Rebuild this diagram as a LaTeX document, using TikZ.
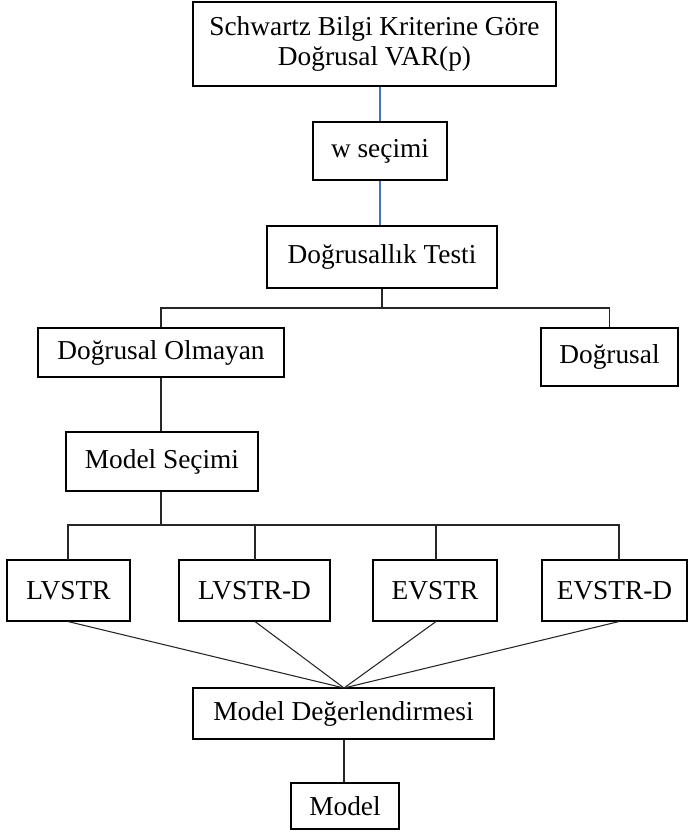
\documentclass[tikz,border=0pt]{standalone}
\usepackage{fontspec}
\setmainfont{Liberation Serif}
\definecolor{wordblue}{HTML}{4472C4}
\begin{document}
\begin{tikzpicture}[x=0.75pt,y=-0.75pt,
  box/.style={draw=black,line width=0.8pt,inner sep=0pt,align=center,
    font=\fontsize{20.5pt}{21.8pt}\selectfont},
  conn/.style={draw=black!85,line width=0.8pt},
  bconn/.style={draw=wordblue,line width=0.8pt}]
\useasboundingbox (0,0) rectangle (687,834);
\node[box,minimum width=363*0.75pt,minimum height=84*0.75pt] (top) at (374.5,44) {Schwartz Bilgi Kriterine Göre\\Doğrusal VAR(p)};
\node[box,minimum width=134*0.75pt,minimum height=58*0.75pt] (w) at (380,151) {w seçimi};
\node[box,minimum width=230*0.75pt,minimum height=62*0.75pt] (dt) at (382,257) {Doğrusallık Testi};
\node[box,minimum width=246*0.75pt,minimum height=49*0.75pt] (do) at (161,352.5) {Doğrusal Olmayan};
\node[box,minimum width=137*0.75pt,minimum height=58*0.75pt] (d) at (609.5,357) {Doğrusal};
\node[box,minimum width=192*0.75pt,minimum height=59*0.75pt] (ms) at (162,461.5) {Model Seçimi};
\node[box,minimum width=123*0.75pt,minimum height=61*0.75pt] (l1) at (68.5,590.5) {LVSTR};
\node[box,minimum width=151*0.75pt,minimum height=61*0.75pt] (l2) at (254.5,590.5) {LVSTR-D};
\node[box,minimum width=124*0.75pt,minimum height=61*0.75pt] (e1) at (435,590.5) {EVSTR};
\node[box,minimum width=145*0.75pt,minimum height=61*0.75pt] (e2) at (614.5,590.5) {EVSTR-D};
\node[box,minimum width=301*0.75pt,minimum height=51*0.75pt] (md) at (343.5,713.5) {Model Değerlendirmesi};
\node[box,minimum width=108*0.75pt,minimum height=46*0.75pt] (m) at (345,806) {Model};
% blue connectors
\draw[bconn] (w.north |- top.south) -- (w.north);
\draw[bconn] (w.south) -- (w.south |- dt.north);
% tree from test
\coordinate (j1) at (382,308);
\draw[conn] (dt.south) -- (j1);
\draw[conn] (do.north) |- (j1) -| (d.north);
\draw[conn] (do.south) -- (do.south |- ms.north);
% tree from model selection
\coordinate (j2) at (161,525);
\coordinate (c1) at (68,560);
\coordinate (c2) at (255,560);
\coordinate (c3) at (436,560);
\coordinate (c4) at (619,560);
\draw[conn] (ms.south -| j2) -- (j2);
\draw[conn] (c1) |- (j2) -| (c4);
\draw[conn] (c2) -- (c2 |- j2);
\draw[conn] (c3) -- (c3 |- j2);
% converging lines
\coordinate (mt) at (344,688);
\draw[conn] (l1.south -| c1) -- (mt);
\draw[conn] (l2.south -| c2) -- (mt);
\draw[conn] (e1.south -| c3) -- (mt);
\draw[conn] (e2.south -| c4) -- (mt);
\draw[conn] (md.south -| mt) -- (m.north -| mt);
\end{tikzpicture}
\end{document}
